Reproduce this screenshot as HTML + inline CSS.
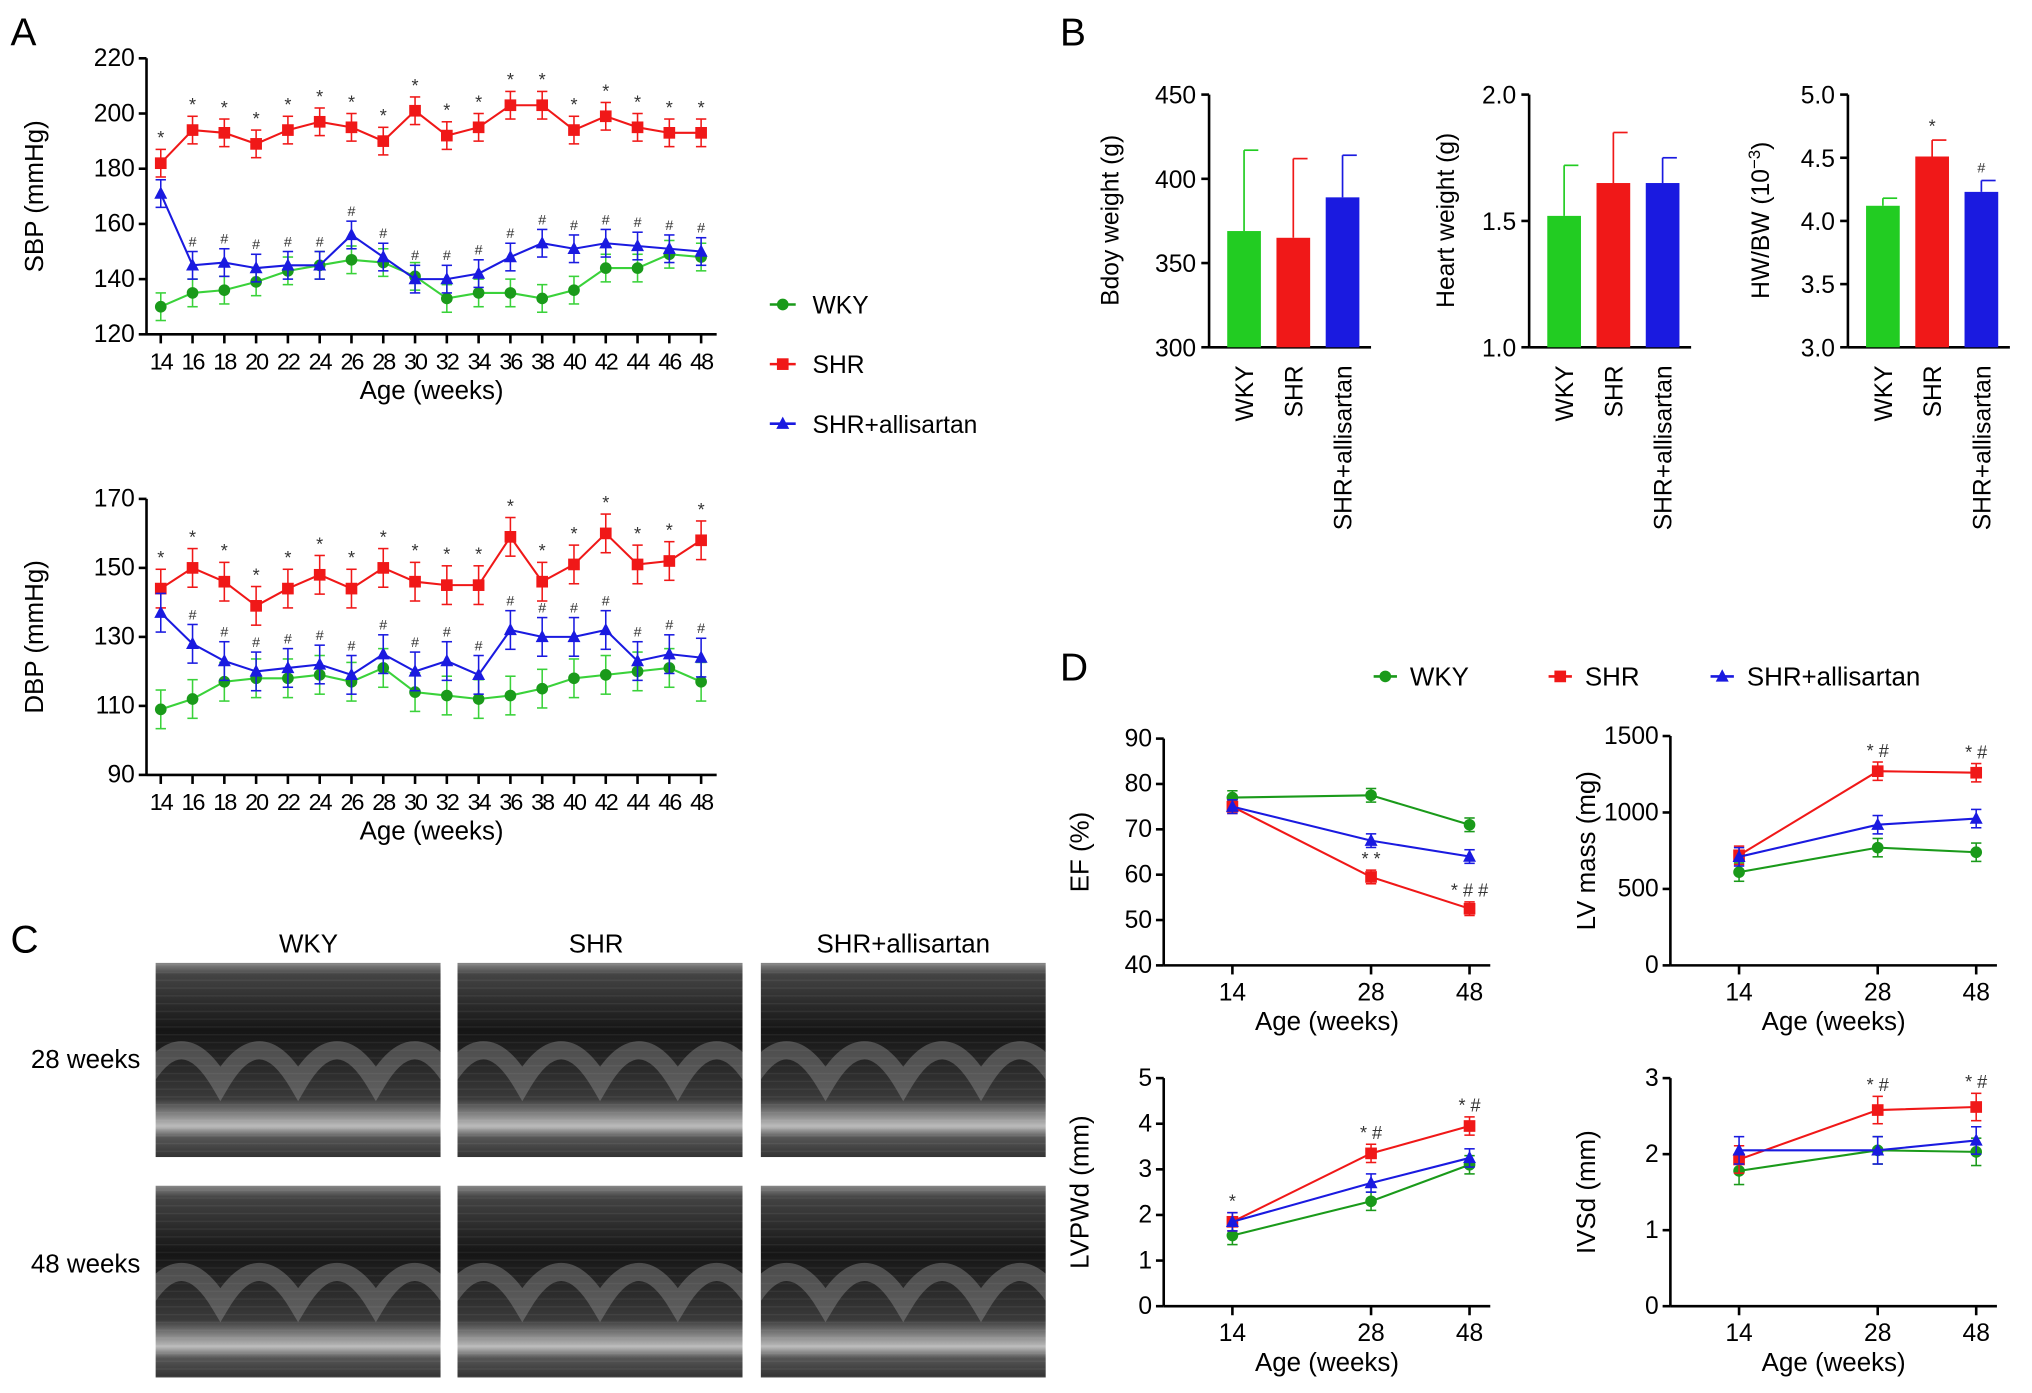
<!DOCTYPE html>
<html><head><meta charset="utf-8"><style>
html,body{margin:0;padding:0;background:#fff;}
svg{display:block;font-family:"Liberation Sans",Arial,sans-serif;}
</style></head><body>
<svg id="fig" width="2032" height="1393" viewBox="0 0 1568 1075" xmlns="http://www.w3.org/2000/svg">
<defs id="defs">
<linearGradient id="echo" x1="0" y1="0" x2="0" y2="1">
<stop offset="0" stop-color="#888"/><stop offset="0.06" stop-color="#444"/><stop offset="0.35" stop-color="#151515"/><stop offset="0.7" stop-color="#3a3a3a"/><stop offset="0.84" stop-color="#bbb"/><stop offset="0.9" stop-color="#555"/><stop offset="1" stop-color="#333"/>
</linearGradient>
<pattern id="stripes" width="1" height="6" patternUnits="userSpaceOnUse"><rect width="1" height="1" fill="rgba(255,255,255,0.06)"/></pattern>
</defs>
<g id="root"></g>
</svg>
<script>
// ---- Panel A data ----
const weeks = [14,16,18,20,22,24,26,28,30,32,34,36,38,40,42,44,46,48];
const sbpWKY = [130,135,136,139,143,145,147,146,141,133,135,135,133,136,144,144,149,148];
const sbpSHR = [182,194,193,189,194,197,195,190,201,192,195,203,203,194,199,195,193,193];
const sbpALL = [171,145,146,144,145,145,156,148,140,140,142,148,153,151,153,152,151,150];
const dbpWKY = [109,112,117,118,118,119,117,121,114,113,112,113,115,118,119,120,121,117];
const dbpSHR = [144,150,146,139,144,148,144,150,146,145,145,159,146,151,160,151,152,158];
const dbpALL = [137,128,123,120,121,122,119,125,120,123,119,132,130,130,132,123,125,124];
const sbpTicks = [120,140,160,180,200,220];
const dbpTicks = [90,110,130,150,170];
// ---- Panel B data ----
const groups = ["WKY","SHR","SHR+allisartan"];
const bodyW = [369,365,389]; const bodyWErr = [48,47,25];
const heartW = [1.52,1.65,1.65]; const heartWErr = [0.2,0.2,0.1];
const hwbw = [4.12,4.51,4.23]; const hwbwErr = [0.06,0.13,0.09];
// ---- Panel D data ----
const dWeeks = [14,28,48];
const efWKY=[77,77.5,71], efSHR=[75,59.5,52.5], efALL=[75,67.5,64];
const lvWKY=[610,770,740], lvSHR=[720,1270,1260], lvALL=[710,920,960];
const pwWKY=[1.55,2.3,3.1], pwSHR=[1.85,3.35,3.95], pwALL=[1.85,2.7,3.25];
const ivWKY=[1.78,2.05,2.03], ivSHR=[1.93,2.58,2.62], ivALL=[2.05,2.05,2.18];

const NS="http://www.w3.org/2000/svg";
const root=document.getElementById('root');
const defs=document.getElementById('defs');
function el(tag,attrs,parent,text){const e=document.createElementNS(NS,tag);for(const k in attrs)e.setAttribute(k,attrs[k]);if(text!==undefined)e.textContent=text;(parent||root).appendChild(e);return e;}
const G='#1a9a1a', GL='#3ad23a', R='#f01818', B='#1a1ae0';

function marker(g,type,x,y,c){
  if(type==='o')return el('circle',{cx:x,cy:y,r:4.5,fill:c},g);
  if(type==='s')return el('rect',{x:x-4.5,y:y-4.5,width:9,height:9,fill:c},g);
  return el('polygon',{points:`${x},${y-5.5} ${x-5},${y+4} ${x+5},${y+4}`,fill:c},g);
}

function lineChart(o){
  const g=el('g',{});  
  const ys=v=>o.y0+(v-o.vmin)/(o.vmax-o.vmin)*(o.y1-o.y0);
  const xs=o.xs;
  el('line',{x1:o.ax,y1:o.y0,x2:o.ax,y2:o.y1,stroke:'#000','stroke-width':2},g);
  el('line',{x1:o.ax,y1:o.y0,x2:o.xend,y2:o.y0,stroke:'#000','stroke-width':2},g);
  o.ticks.forEach(t=>{const y=ys(t);el('line',{x1:o.ax-6,y1:y,x2:o.ax,y2:y,stroke:'#000','stroke-width':2},g);
    const tl=el('text',{x:o.ax-9,y:y+6,'text-anchor':'end','font-size':19},g,o.fmt?o.fmt(t):t);});
  o.cats.forEach((c,i)=>{const x=xs(i);el('line',{x1:x,y1:o.y0,x2:x,y2:o.y0+7,stroke:'#000','stroke-width':2},g);
    const tl=el('text',{x:x,y:o.y0+27,'text-anchor':'middle','font-size':o.xfs||19,'letter-spacing':o.ls||0},g,c);});
  const xt=el('text',{x:(o.ax+o.xend)/2,y:o.y0+50,'text-anchor':'middle','font-size':20},g,'Age (weeks)');
  
  const cy=(o.y0+o.y1)/2, cx=o.ax-(o.ylx||60);
  const yt=el('text',{x:cx,y:cy,'text-anchor':'middle','font-size':20,transform:`rotate(-90 ${cx} ${cy})`},g,o.ylabel);
  
  o.series.forEach(s=>{
    const sg=el('g',{},g);  
    const pts=s.vals.map((v,i)=>xs(i)+','+ys(v)).join(' ');
    el('polyline',{points:pts,fill:'none',stroke:s.lc||s.c,'stroke-width':1.6},sg);
    s.vals.forEach((v,i)=>{const x=xs(i),y=ys(v),e=(o.err||5)*(o.vmax-o.vmin)/100*(s.ef||1);
      const ya=ys(v+e),yb=ys(v-e);
      el('line',{x1:x,y1:ya,x2:x,y2:yb,stroke:s.lc||s.c,'stroke-width':1.2},sg);
      el('line',{x1:x-4,y1:ya,x2:x+4,y2:ya,stroke:s.lc||s.c,'stroke-width':1.2},sg);
      el('line',{x1:x-4,y1:yb,x2:x+4,y2:yb,stroke:s.lc||s.c,'stroke-width':1.2},sg);
      const m=marker(sg,s.m,x,y,s.c);
      if(s.mark){el('text',{x:x,y:ya-4,'text-anchor':'middle','font-size':s.mark==='#'?11:14,fill:'#333'},sg,s.markFn?s.markFn(i):s.mark);}
    });
  });
  return g;
}
function ax18(i){return 124+i*(541-124)/17;}
lineChart({name:'sbp-chart',ax:113,xend:553,y0:258,y1:45,vmin:120,vmax:220,ticks:sbpTicks,cats:weeks,xs:ax18,ylabel:'SBP (mmHg)',xfs:18,ls:-1.5,ylx:80,err:5,
 series:[{key:'wky',vals:sbpWKY,c:G,lc:GL,m:'o'},{key:'shr',vals:sbpSHR,c:R,m:'s',mark:'*'},{key:'allisartan',vals:sbpALL,c:B,m:'t',mark:'#',markFn:i=>i===0?'':'#'}]});
lineChart({name:'dbp-chart',ax:113,xend:553,y0:598,y1:385,vmin:90,vmax:170,ticks:dbpTicks,cats:weeks,xs:ax18,ylabel:'DBP (mmHg)',xfs:18,ls:-1.5,ylx:80,err:7,
 series:[{key:'wky',vals:dbpWKY,c:G,lc:GL,m:'o'},{key:'shr',vals:dbpSHR,c:R,m:'s',mark:'*'},{key:'allisartan',vals:dbpALL,c:B,m:'t',mark:'#',markFn:i=>i===0?'':'#'}]});

[['WKY',G,'o',235],['SHR',R,'s',281],['SHR+allisartan',B,'t',327]].forEach(([t,c,m,y])=>{
  const g=el('g',{});
  el('line',{x1:594,y1:y,x2:614,y2:y,stroke:c,'stroke-width':2},g);marker(g,m,604,y,c);
  el('text',{x:627,y:y+7,'font-size':19},g,t);
});
[['A',8,35],['B',818,35],['C',8,735],['D',818,525]].forEach(([t,x,y])=>{const l=el('text',{x:x,y:y,'font-size':30},root,t);});

function barChart(name,ax,vals,errs,vmin,vmax,ticks,fmt,label,marks,lx0){
  const g=el('g',{});
  const y0=268,y1=73,ys=v=>y0+(v-vmin)/(vmax-vmin)*(y1-y0);
  el('line',{x1:ax,y1:y0,x2:ax,y2:y1,stroke:'#000','stroke-width':2},g);
  el('line',{x1:ax,y1:y0,x2:ax+125,y2:y0,stroke:'#000','stroke-width':2},g);
  ticks.forEach(t=>{const y=ys(t);el('line',{x1:ax-6,y1:y,x2:ax,y2:y,stroke:'#000','stroke-width':2},g);el('text',{x:ax-10,y:y+7,'text-anchor':'end','font-size':19},g,fmt(t));});
  vals.forEach((v,i)=>{const x=ax+14+i*38,w=26,y=ys(v),ye=ys(v+errs[i]),c=['#22cc22','#f01818','#1a1ae0'][i];
    const b=el('rect',{x:x,y:y,width:w,height:y0-y,fill:c},g);
    el('line',{x1:x+w/2,y1:y,x2:x+w/2,y2:ye,stroke:c,'stroke-width':1.3},g);
    el('line',{x1:x+w/2,y1:ye,x2:x+w-2,y2:ye,stroke:c,'stroke-width':1.3},g);
    if(marks&&marks[i])el('text',{x:x+w/2,y:ye-6,'text-anchor':'middle','font-size':marks[i]==='#'?11:14,fill:'#333'},g,marks[i]);
    const lx=x+w/2+7,ly=282;el('text',{x:lx,y:ly,'text-anchor':'end','font-size':19,transform:`rotate(-90 ${lx} ${ly})`},g,groups[i]);
  });
  if(label){const cx=lx0,cy=170;el('text',{x:cx,y:cy,'text-anchor':'middle','font-size':19,transform:`rotate(-90 ${cx} ${cy})`},g,label);}
}
barChart('body-weight-chart',933,bodyW,bodyWErr,300,450,[300,350,400,450],t=>t,'Bdoy weight (g)',null,863);
barChart('heart-weight-chart',1180,heartW,heartWErr,1,2,[1,1.5,2],t=>t.toFixed(1),'Heart weight (g)',null,1122);
barChart('hwbw-chart',1426,hwbw,hwbwErr,3,5,[3,3.5,4,4.5,5],t=>t.toFixed(1),'',[null,'*','#']);
{const cx=1365,cy=170;const t=el('text',{x:cx,y:cy,'text-anchor':'middle','font-size':19,transform:`rotate(-90 ${cx} ${cy})`},root);
 t.innerHTML='HW/BW (10<tspan baseline-shift="super" font-size="13">−3</tspan>)';}

[['WKY',238],['SHR',460],['SHR+allisartan',697]].forEach(([t,x])=>el('text',{x:x,y:735,'text-anchor':'middle','font-size':20},root,t));
[['28 weeks',824],['48 weeks',982]].forEach(([t,y])=>el('text',{x:66,y:y,'text-anchor':'middle','font-size':20},root,t));
[[120,743],[353,743],[587,743],[120,915],[353,915],[587,915]].forEach(([x,y],k)=>{
  const h=k<3?150:148;
  const cp=el('clipPath',{id:'cp'+k},defs);el('rect',{x:x,y:y,width:220,height:h},cp);
  const g=el('g',{'clip-path':'url(#cp'+k+')'});
  el('rect',{x:x,y:y,width:220,height:h,fill:'url(#echo)'},g);
  el('rect',{x:x,y:y,width:220,height:h,fill:'url(#stripes)'},g);
  let d='M'+(x-10)+' '+(y+h*0.62);
  for(let i=0;i<=4;i++){const xx=x-10+i*60;d+=` Q${xx+30} ${y+h*0.28} ${xx+60} ${y+h*0.62}`;}
  el('path',{d:d,fill:'none',stroke:'rgba(170,170,170,0.35)','stroke-width':14},g);
});

[['WKY',G,'o',1060],['SHR',R,'s',1195],['SHR+allisartan',B,'t',1320]].forEach(([t,c,m,x])=>{
  const g=el('g',{});
  el('line',{x1:x,y1:522,x2:x+18,y2:522,stroke:c,'stroke-width':2},g);marker(g,m,x+9,522,c);
  el('text',{x:x+28,y:529,'font-size':20},g,t);
});
function dChart(name,ax,y0,y1,vmin,vmax,ticks,ylabel,w,s,a,err,marks){
  const xs=i=>[ax+53,ax+160,ax+236][i];
  lineChart({name:name,ax:ax,xend:ax+252,y0:y0,y1:y1,vmin:vmin,vmax:vmax,ticks:ticks,cats:dWeeks,xs:xs,ylabel:ylabel,ylx:58,err:err,
   series:[{key:'wky',vals:w,c:G,m:'o'},{key:'shr',vals:s,c:R,m:'s',mark:' ',markFn:i=>marks[i]},{key:'allisartan',vals:a,c:B,m:'t'}]});
}
dChart('ef-chart',898,745,570,40,90,[40,50,60,70,80,90],'EF (%)',efWKY,efSHR,efALL,3,['','* *','* # #']);
dChart('lv-mass-chart',1289,745,568,0,1500,[0,500,1000,1500],'LV mass (mg)',lvWKY,lvSHR,lvALL,4,['','* #','* #']);
dChart('lvpwd-chart',898,1008,832,0,5,[0,1,2,3,4,5],'LVPWd (mm)',pwWKY,pwSHR,pwALL,4,['*','* #','* #']);
dChart('ivsd-chart',1289,1008,832,0,3,[0,1,2,3],'IVSd (mm)',ivWKY,ivSHR,ivALL,6,['','* #','* #']);
</script>
</body></html>
